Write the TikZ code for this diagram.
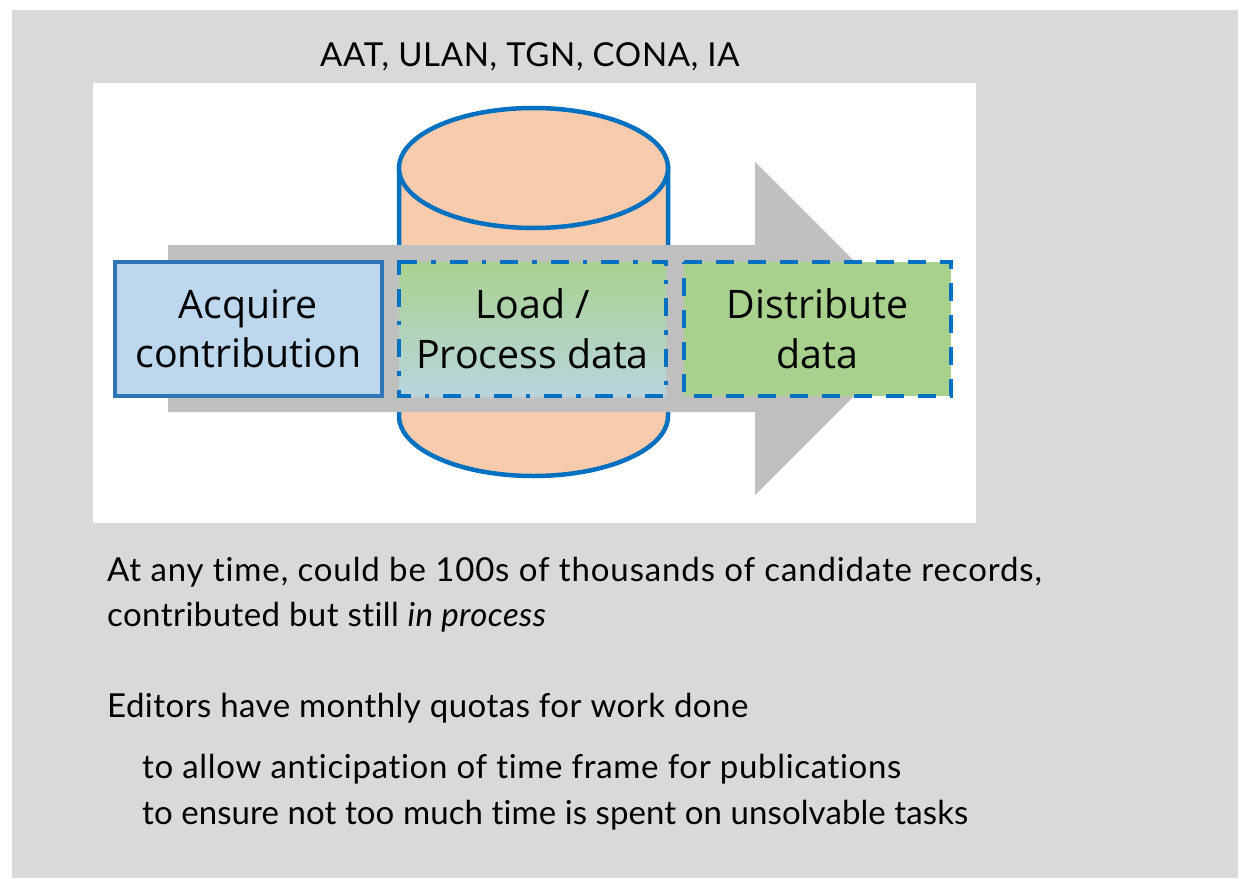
\documentclass[tikz,border=0pt]{standalone}
\usepackage{fontspec}
\setmainfont[LetterSpace=2.0,Ligatures=NoCommon]{Lato}
\newfontfamily\boxfont{Open Sans}
\definecolor{panel}{HTML}{D9D9D9}
\definecolor{arrowgray}{HTML}{BFBFBF}
\definecolor{cylfill}{HTML}{F8CBAD}
\definecolor{cylline}{HTML}{0070C0}
\definecolor{acqfill}{HTML}{BDD7EE}
\definecolor{acqline}{HTML}{2E75B6}
\definecolor{grn}{HTML}{A9D18E}
\definecolor{tealb}{HTML}{B8D5DF}
\newcommand{\lsp}[1]{\addfontfeature{LetterSpace=#1}}
\tikzset{
  x=1pt,y=-1pt,
  stagebox/.style={minimum width=267pt,minimum height=134pt,inner sep=0pt,outer sep=0pt,align=center,anchor=north west,
     font=\boxfont\fontsize{39.3}{49.5}\selectfont,text=black,line width=4.5pt},
  cylstroke/.style={fill=cylfill,draw=cylline,line width=4.5pt},
  stageline/.style={draw=cylline,line width=4.5pt},
  bodytext/.style={anchor=base west,inner sep=0pt,font=\fontsize{33}{36}\selectfont,text=black},
}
\begin{document}
\begin{tikzpicture}
\useasboundingbox (0,0) rectangle (1239,878);
\fill[panel] (12,10) rectangle (1238,878);
\fill[white] (93,83) rectangle (976,523);
% cylinder
\path[cylstroke]
  (399,168) -- (399,416) arc[start angle=180,end angle=0,x radius=134.5,y radius=60] -- (668,168) -- cycle;
\path[cylstroke] (533.5,168) ellipse[x radius=134.5,y radius=60];
% big arrow
\fill[arrowgray] (168,245) -- (755,245) -- (755,162) -- (921.5,328.5) -- (755,495) -- (755,412) -- (168,412) -- cycle;
% stages
\node[stagebox,fill=acqfill,draw=acqline] (acquire) at (115,262) {Acquire\\contribution};
\node[stagebox,top color=grn,bottom color=tealb] (load) at (399,262) {Load /\\Process data};
\node[stagebox,fill=grn] (distribute) at (684,262) {Distribute\\data};
\draw[stageline,dash pattern=on 18pt off 14pt on 4.5pt off 14pt]
  (load.north west) -- (load.north east) -- (load.south east) -- (load.south west) -- (load.north west);
\draw[stageline] ([yshift=2.25pt]load.north west) -- ([yshift=-12pt]load.north west);
\draw[stageline,dash pattern=on 18pt off 14pt]
  (distribute.north west) -- (distribute.north east) -- (distribute.south east) -- (distribute.south west) -- (distribute.north west);
% texts
\node[bodytext] (title) at (320,66) {AAT, ULAN, TGN, CONA, IA};
\node[bodytext] (l1) at (107,581) {\lsp{2.6}At any time, could be 100s of thousands of candidate records,};
\node[bodytext] (l2) at (107,626) {\lsp{1.3}contributed but still \itshape in process};
\node[bodytext] (l3) at (107,717) {\lsp{1.4}Editors have monthly quotas for work done};
\node[bodytext] (l4) at (142,778) {to allow anticipation of time frame for publications};
\node[bodytext] (l5) at (142,824) {\lsp{0.3}to ensure not too much time is spent on unsolvable tasks};
\end{tikzpicture}
\end{document}
